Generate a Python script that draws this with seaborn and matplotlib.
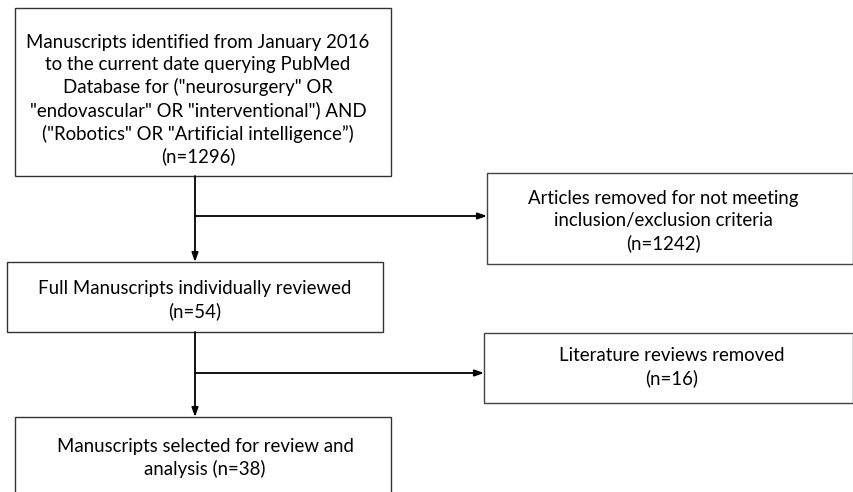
import matplotlib
matplotlib.use("Agg")
import matplotlib.pyplot as plt
from matplotlib.patches import Rectangle
import seaborn as sns

# ---- data ----
main_texts = [
    'Manuscripts identified from January 2016\nto the current date querying PubMed\nDatabase for ("neurosurgery" OR\n"endovascular" OR "interventional") AND\n("Robotics" OR "Artificial intelligence\u201d)\n(n={})',
    'Full Manuscripts individually reviewed\n(n={})',
    'Manuscripts selected for review and\nanalysis (n={})',
]
main_counts = [1296, 54, 38]
side_texts = [
    'Articles removed for not meeting\ninclusion/exclusion criteria\n(n={})',
    'Literature reviews removed\n(n={})',
]
side_counts = [1242, 16]

# ---- layout (pixel coordinates) ----
main_boxes = [(15, 8, 376, 168), (7, 262, 376, 70), (15, 417, 376, 90)]
main_text_xy = [(198, 100), (195, 300), (205, 458)]
side_boxes = [(487, 173, 366, 91), (484, 333, 369, 70)]
side_text_xy = [(663, 221), (672, 367)]
trunk_x = 195
branch_y = [216, 373]

sns.set_theme(style="white")
plt.rcParams['font.family'] = ['Lato', 'DejaVu Sans']

fig = plt.figure(figsize=(8.54, 4.92), dpi=100)
ax = fig.add_axes([0, 0, 1, 1])
ax.set_xlim(0, 854)
ax.set_ylim(492, 0)
ax.axis('off')

fs = 13.4
ls = 1.34
for (x, y, w, h), (tx, ty), t, c in zip(main_boxes, main_text_xy, main_texts, main_counts):
    ax.add_patch(Rectangle((x, y), w, h, fill=False, edgecolor='#333333', lw=1.0, clip_on=False))
    ax.text(tx, ty, t.format(c), ha='center', va='center', fontsize=fs,
            color='black', linespacing=ls)

for (x, y, w, h), (tx, ty), t, c in zip(side_boxes, side_text_xy, side_texts, side_counts):
    ax.add_patch(Rectangle((x, y), w, h, fill=False, edgecolor='#444444', lw=1.0, clip_on=False))
    ax.text(tx, ty, t.format(c), ha='center', va='center', fontsize=fs,
            color='black', linespacing=ls)

arrow_kw = dict(arrowstyle='-|>,head_length=0.45,head_width=0.16', color='black', lw=1.3,
                shrinkA=0, shrinkB=0)
# vertical connectors
for i in range(2):
    y0 = main_boxes[i][1] + main_boxes[i][3]
    y1 = main_boxes[i + 1][1]
    ax.annotate('', xy=(trunk_x, y1), xytext=(trunk_x, y0), arrowprops=arrow_kw)
# side branches
for yb, (x, y, w, h) in zip(branch_y, side_boxes):
    ax.annotate('', xy=(x, yb), xytext=(trunk_x, yb), arrowprops=arrow_kw)

fig.savefig('out.png', dpi=100, facecolor='white')
